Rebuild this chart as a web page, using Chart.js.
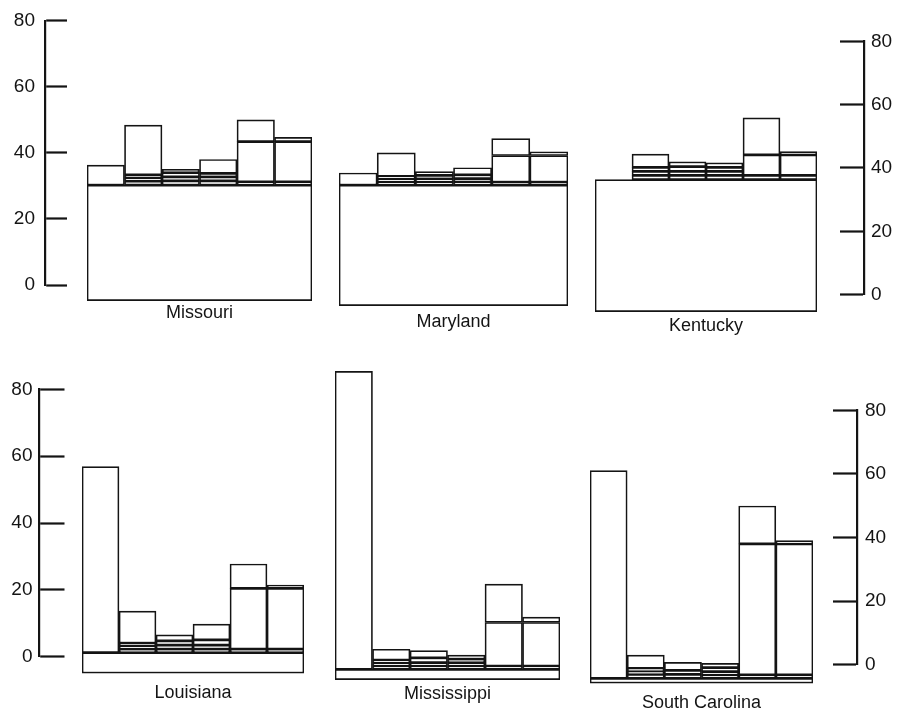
<!DOCTYPE html>
<html>
<head>
<meta charset="utf-8">
<script src="https://cdn.jsdelivr.net/npm/chart.js@4.4.1/dist/chart.umd.min.js"></script>
<style>
  html, body { margin: 0; padding: 0; background: #fff; }
  #page { position: relative; width: 900px; height: 715px; overflow: hidden; }
  #page canvas { position: absolute; }
</style>
</head>
<body>
<div id="page"></div>
<script>
"use strict";

// ── data ────────────────────────────────────────────────────
const states = ["Missouri", "Maryland", "Kentucky", "Louisiana", "Mississippi", "South Carolina"];
const yTicks = [0, 20, 40, 60, 80];

// full-width bottom block of every panel
const baseBottom = [-4.0, -4.2, -4.7, -4.3, -4.9, -4.7];
const baseTop = [31.0, 32.3, 35.3, 1.9, -1.8, -3.2];

// six columns per panel, cumulative levels stacked above baseTop
const missouriCols = [[37.1], [32.2, 33.2, 34.1, 49.2], [32.3, 33.5, 34.8, 35.8], [32.3, 33.5, 34.6, 38.8], [32.0, 44.2, 50.8], [32.0, 44.2, 45.5]];
const marylandCols = [[36.0], [33.3, 34.2, 35.0, 42.1], [33.3, 34.2, 35.3, 36.4], [33.3, 34.3, 35.4, 37.6], [33.2, 41.3, 46.4], [33.2, 41.3, 42.4]];
const kentuckyCols = [[], [36.6, 37.8, 39.0, 43.0], [36.6, 37.8, 39.2, 40.7], [36.6, 37.8, 39.0, 40.4], [36.6, 42.8, 54.0], [36.6, 42.8, 43.8]];
const louisianaCols = [[58.3], [3.0, 4.0, 4.8, 14.5], [3.0, 4.2, 5.5, 7.3], [3.0, 4.2, 5.8, 10.6], [3.0, 21.4, 28.8], [3.0, 21.4, 22.4]];
const mississippiCols = [[88.5], [-0.8, 0.2, 1.0, 4.3], [-0.8, 0.2, 1.7, 3.9], [-0.8, 0.2, 1.3, 2.5], [-0.8, 12.4, 24.0], [-0.8, 12.4, 14.0]];
const carolinaCols = [[59.7], [-2.0, -1.1, -0.2, 3.8], [-2.0, -0.8, 1.6], [-2.2, -1.2, 0.0, 1.3], [-2.2, 37.5, 49.0], [-2.2, 37.5, 38.5]];
const stateCols = [missouriCols, marylandCols, kentuckyCols, louisianaCols, mississippiCols, carolinaCols];

// ── page layout (px) ────────────────────────────────────────
const PX = 3.3;            // pixels per unit
const Y_MIN = -6;
const Y_TOP = 94;
const INK = "#141414";
const BW = 1.7;
const FONT = '"Liberation Sans", Arial, Helvetica, sans-serif';

const panelLayout = [
  { left: 87, width: 225, zeroY: 287.5, labelY: 313 },
  { left: 339, width: 229, zeroY: 291.8, labelY: 322 },
  { left: 595, width: 222, zeroY: 296.1, labelY: 326 },
  { left: 82, width: 222, zeroY: 659.0, labelY: 693 },
  { left: 335, width: 225, zeroY: 663.4, labelY: 694 },
  { left: 590, width: 223, zeroY: 667.7, labelY: 703 },
];

// pad: gap between the ruler line and its numbers
const rulers = [
  { side: "left", lineX: 45, tick: 22, zeroY: 285, topY: 20.7, pad: -10 },
  { side: "right", lineX: 864, tick: 24, zeroY: 298.5, topY: 37, pad: 7 },
  { side: "left", lineX: 39.5, tick: 25, zeroY: 656.7, topY: 389.3, pad: -7 },
  { side: "right", lineX: 857, tick: 24, zeroY: 670, topY: 405, pad: 8 },
];

const page = document.getElementById("page");

function addCanvas(left, top, width, height) {
  const cv = document.createElement("canvas");
  cv.width = width;
  cv.height = height;
  cv.style.left = left + "px";
  cv.style.top = top + "px";
  cv.style.width = width + "px";
  cv.style.height = height + "px";
  page.appendChild(cv);
  return cv;
}

// ── one panel: base block + stacked column layers ───────────
function makePanel(i) {
  const p = panelLayout[i];
  const cols = stateCols[i];
  const top = Math.round(p.zeroY - Y_TOP * PX);
  const yMax = (p.zeroY - top) / PX;
  const chartBottom = p.zeroY - Y_MIN * PX;
  const height = Math.round(p.labelY + 10.8 - top);
  const xAxisH = top + height - chartBottom;
  const cv = addCanvas(p.left, top, p.width, height);

  const barStyle = {
    backgroundColor: "#fff",
    borderColor: INK,
    borderWidth: BW,
    borderSkipped: false,
    barPercentage: 1,
    categoryPercentage: 1,
    grouped: false,
  };

  const datasets = [
    { label: "base", xAxisID: "xb", data: [[baseBottom[i], baseTop[i]]], order: 99, ...barStyle },
  ];
  const nLayers = Math.max(...cols.map((c) => c.length));
  for (let k = 0; k < nLayers; k++) {
    datasets.push({
      label: "layer " + (k + 1),
      xAxisID: "x",
      data: cols.map((c) => (k < c.length ? [k === 0 ? baseTop[i] : c[k - 1], c[k]] : null)),
      order: 10 - k,
      ...barStyle,
    });
  }

  new Chart(cv, {
    type: "bar",
    data: { labels: ["1", "2", "3", "4", "5", "6"], datasets },
    options: {
      responsive: false,
      animation: false,
      layout: { padding: 0 },
      plugins: { legend: { display: false }, tooltip: { enabled: false } },
      scales: {
        x: {
          display: true,
          offset: true,
          grid: { display: false },
          border: { display: false },
          ticks: { display: false },
          title: { display: true, text: states[i], color: INK, padding: 0, font: { family: FONT, size: 18 } },
          afterFit: (s) => { s.height = xAxisH; },
        },
        xb: { type: "category", labels: [""], display: false, offset: true },
        y: { display: false, min: Y_MIN, max: yMax },
      },
    },
  });
}

// ── free-standing value rulers ──────────────────────────────
function makeRuler(r) {
  const padV = 14;
  const top = Math.round(r.topY - padV);
  const height = Math.round(r.zeroY + padV - top);
  const padTop = r.topY - top;
  const padBottom = top + height - r.zeroY;
  let left, width;
  if (r.side === "left") {
    left = 0;
    width = Math.round(r.lineX + r.tick + 2);
  } else {
    left = Math.round(r.lineX - r.tick);
    width = 900 - left;
  }
  const cv = addCanvas(left, top, width, height);
  const axisW = r.side === "left" ? width - r.lineX : r.lineX - left;

  new Chart(cv, {
    type: "bar",
    data: { labels: [], datasets: [] },
    options: {
      responsive: false,
      animation: false,
      layout: { padding: { top: padTop, bottom: padBottom, left: 0, right: 0 } },
      plugins: { legend: { display: false }, tooltip: { enabled: false } },
      scales: {
        x: { display: false },
        y: {
          position: r.side === "left" ? "right" : "left",
          min: 0,
          max: 80,
          afterBuildTicks: (s) => { s.ticks = yTicks.map((v) => ({ value: v })); },
          ticks: { mirror: true, padding: r.pad, color: INK, font: { family: FONT, size: 19 } },
          grid: { drawOnChartArea: false, drawTicks: true, tickLength: r.tick, tickWidth: 2.2, color: INK },
          border: { display: true, width: 2.2, color: INK },
          afterFit: (s) => { s.width = axisW; },
        },
      },
    },
  });
}

states.forEach((_, i) => makePanel(i));
rulers.forEach(makeRuler);
</script>
</body>
</html>
